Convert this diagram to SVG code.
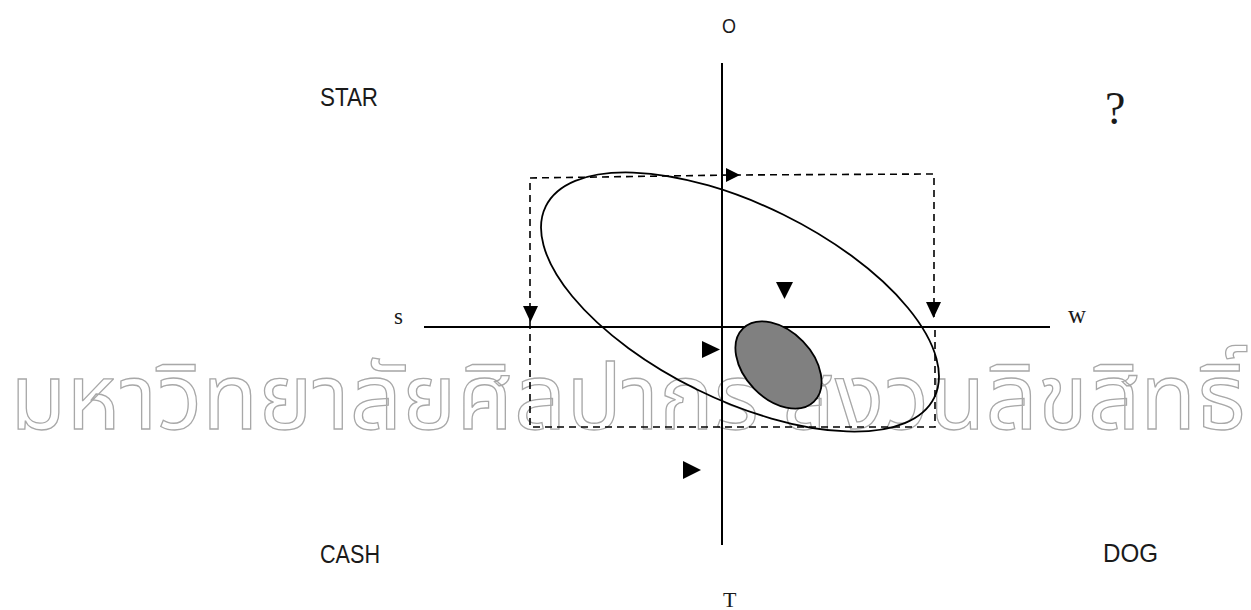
<svg xmlns="http://www.w3.org/2000/svg" width="1251" height="610" viewBox="0 0 1251 610">
<style>
.sans{font-family:"Liberation Sans",Arial,sans-serif;fill:#1a1a1a}
.serif{font-family:"Liberation Serif","Times New Roman",serif;fill:#1a1a1a}
.wm{font-family:"Noto Sans Thai","Noto Serif Thai","Loma","Garuda","Norasi","DejaVu Sans",sans-serif;fill:none;stroke:#a8a8a8;stroke-width:1.3}
.axis{stroke:#000;stroke-width:2;fill:none}
.dash{stroke:#000;stroke-width:1.6;fill:none;stroke-dasharray:7,5}
.tri{fill:#000}
</style>
<rect width="1251" height="610" fill="#fff"/>
<g id="watermark">
<text class="wm" x="10" y="429" font-size="92" textLength="1236" lengthAdjust="spacingAndGlyphs">มหาวิทยาลัยศิลปากร สงวนลิขสิทธิ์</text>
</g>
<g id="axes">
<line class="axis" x1="722" y1="63" x2="722" y2="545"/>
<line class="axis" x1="424" y1="327" x2="1050" y2="327"/>
</g>
<g id="labels">
<text class="sans" x="722" y="33" font-size="20" textLength="14" lengthAdjust="spacingAndGlyphs">O</text>
<text class="sans" x="320" y="106" font-size="26" textLength="58" lengthAdjust="spacingAndGlyphs">STAR</text>
<text class="sans" x="320" y="563" font-size="26" textLength="60" lengthAdjust="spacingAndGlyphs">CASH</text>
<text class="sans" x="1103" y="562" font-size="26" textLength="55" lengthAdjust="spacingAndGlyphs">DOG</text>
<text class="serif" x="723" y="607" font-size="22">T</text>
<text class="serif" x="394" y="324" font-size="23">s</text>
<text class="serif" x="1068" y="323" font-size="25">w</text>
<text class="serif" x="1105" y="124" font-size="46">?</text>
</g>
<g id="big-ellipse">
<ellipse cx="740" cy="302" rx="216.5" ry="97.5" transform="rotate(26.2 740 302)" fill="none" stroke="#000" stroke-width="1.8"/>
</g>
<g id="small-ellipse">
<ellipse cx="778.5" cy="365" rx="51" ry="34" transform="rotate(46 778.5 365)" fill="#808080" stroke="#000" stroke-width="1.8"/>
</g>
<g id="connectors">
<polyline class="dash" points="530,322 530,178 733,175 934,174 934,318"/>
<polyline class="dash" points="530,322 530,427 935,427 935,327"/>
<polygon class="tri" points="726,168 740,175 726,182"/>
<polygon class="tri" points="523,306 538,306 530.5,322"/>
<polygon class="tri" points="926,302 941,302 933.5,318"/>
</g>
<g id="markers">
<polygon class="tri" points="776,282 793,282 784.5,299"/>
<polygon class="tri" points="702,341 720,349.5 702,358"/>
<polygon class="tri" points="683,461 701,470 683,479"/>
</g>
</svg>
